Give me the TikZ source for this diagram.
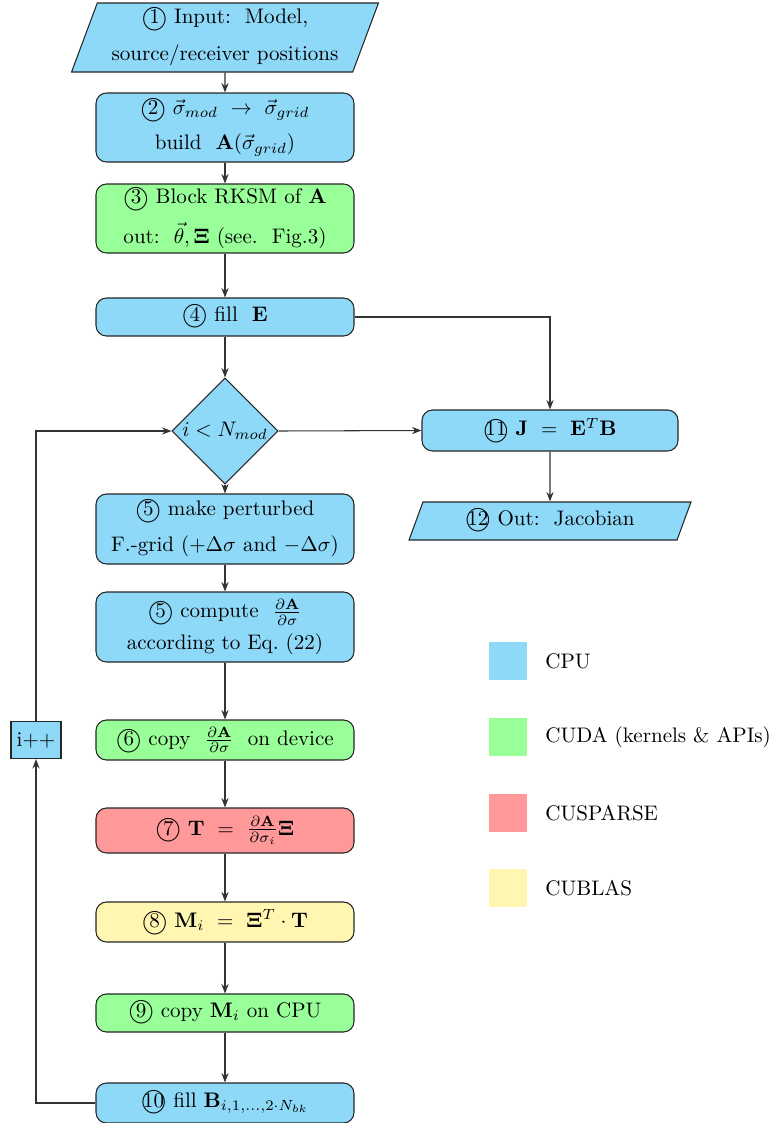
\documentclass[tikz,border=0pt]{standalone}
\usepackage{amsmath,amssymb}
\usetikzlibrary{shapes.geometric,arrows.meta}
\definecolor{cpu}{RGB}{142,216,248}
\definecolor{cuda}{RGB}{153,255,153}
\definecolor{cusp}{RGB}{255,153,153}
\definecolor{cublas}{RGB}{255,246,178}
\newcommand\pxu{0.475pt}
\newcommand\cnum[1]{\ooalign{\hidewidth#1\hidewidth\crcr\raisebox{-0.9pt}{\large$\bigcirc$}}}
\begin{document}
\begin{tikzpicture}[x=\pxu,y=-\pxu,
  line/.style={draw=black!80, line width=0.5pt},
  arr/.style={line, -{Stealth[length=4.5pt,width=3.4pt]}},
  box/.style={draw=black!85, line width=0.5pt, rounded corners=5pt, minimum width=258*\pxu, align=center, inner sep=2pt},
  io/.style={trapezium, trapezium stretches=true, draw=black!85, line width=0.5pt, fill=cpu, align=center, inner sep=2pt},
  legbox/.style={minimum size=38*\pxu, inner sep=0pt},
  legtxt/.style={anchor=west, inner sep=0pt}]
\useasboundingbox (0,0) rectangle (769,1123);

\node[io, trapezium left angle=70, trapezium right angle=110, minimum width=307*\pxu, minimum height=69*\pxu] (n1) at (225,37.5)
  {\cnum{1} Input:\ \ Model,\\[5.5pt] source/receiver positions};
\node[box, fill=cpu, minimum height=69*\pxu] (n2) at (225,127.5)
  {\cnum{2} $\vec{\sigma}_{mod}\ \rightarrow\ \vec{\sigma}_{grid}$\\[5pt] build\ \ $\mathbf{A}(\vec{\sigma}_{grid})$};
\node[box, fill=cuda, minimum height=69*\pxu] (n3) at (225,218.5)
  {\cnum{3} Block RKSM of $\mathbf{A}$\\[5pt] out:\ \ $\vec{\theta}, \mathbf{\Xi}$ (see.\ \ Fig.3)};
\node[box, fill=cpu, minimum height=38*\pxu] (n4) at (225,317)
  {\cnum{4} fill\ \ $\mathbf{E}$};
\node[diamond, aspect=1, draw=black!85, line width=0.5pt, fill=cpu, inner sep=0pt, minimum size=106*\pxu] (dia) at (225,431)
  {$i < N_{mod}$};
\node[box, fill=cpu, minimum width=256*\pxu, minimum height=41*\pxu] (n11) at (550,430.5)
  {\cnum{11} $\mathbf{J}\ =\ \mathbf{E}^T\mathbf{B}$};
\node[io, trapezium left angle=72, trapezium right angle=108, minimum width=284*\pxu, minimum height=38*\pxu] (n12) at (550,521)
  {\cnum{12} Out:\ \ Jacobian};
\node[box, fill=cpu, minimum height=70*\pxu] (n5a) at (225,529)
  {\cnum{5} make perturbed\\[5pt] F.-grid ($+\Delta\sigma$ and $-\Delta\sigma$)};
\node[box, fill=cpu, minimum height=70*\pxu] (n5b) at (225,627)
  {\cnum{5} compute\ \ $\frac{\partial\mathbf{A}}{\partial\sigma}$\\[3pt] according to Eq.\ (22)};
\node[box, fill=cuda, minimum height=40*\pxu] (n6) at (225,740)
  {\cnum{6} copy\ \ $\frac{\partial\mathbf{A}}{\partial\sigma}$\ \ on device};
\node[box, fill=cusp, minimum height=45*\pxu] (n7) at (225,830.5)
  {\cnum{7} $\mathbf{T}\ =\ \frac{\partial\mathbf{A}}{\partial\sigma_i}\mathbf{\Xi}$};
\node[box, fill=cublas, minimum height=40*\pxu] (n8) at (225,922)
  {\cnum{8} $\mathbf{M}_i\ =\ \mathbf{\Xi}^T\cdot\mathbf{T}$};
\node[box, fill=cuda, minimum height=38*\pxu] (n9) at (225,1013)
  {\cnum{9} copy $\mathbf{M}_i$ on CPU};
\node[box, fill=cpu, minimum height=40*\pxu] (n10) at (225,1103)
  {\cnum{10} fill $\mathbf{B}_{i,1,\ldots,2\cdot N_{bk}}$};
\node[draw=black!85, line width=0.5pt, fill=cpu, minimum width=50*\pxu, minimum height=37*\pxu, inner sep=1pt] (inc) at (36,740) {i++};

\draw[arr] (n1) -- (n2);
\draw[arr] (n2) -- (n3);
\draw[arr] (n3) -- (n4);
\draw[arr] (n4) -- (dia);
\draw[arr] (dia) -- (n5a);
\draw[arr] (n5a) -- (n5b);
\draw[arr] (n5b) -- (n6);
\draw[arr] (n6) -- (n7);
\draw[arr] (n7) -- (n8);
\draw[arr] (n8) -- (n9);
\draw[arr] (n9) -- (n10);
\draw[arr] (n10.west) -| (inc.south);
\draw[arr] (inc.north) |- (dia.west);
\draw[arr] (dia.east) -- (n11.west);
\draw[arr] (n4.east) -| (n11.north);
\draw[arr] (n11) -- (n12);

\node[legbox, fill=cpu] (lcpu) at (508,661) {};
\node[legtxt] (tcpu) at (545,661) {CPU};
\node[legbox, fill=cuda] (lcuda) at (508,737) {};
\node[legtxt] (tcuda) at (545,737) {CUDA (kernels \& APIs)};
\node[legbox, fill=cusp] (lcusp) at (508,813) {};
\node[legtxt] (tcusp) at (545,813) {CUSPARSE};
\node[legbox, fill=cublas] (lcublas) at (508,888) {};
\node[legtxt] (tcublas) at (545,888) {CUBLAS};
\end{tikzpicture}
\end{document}
